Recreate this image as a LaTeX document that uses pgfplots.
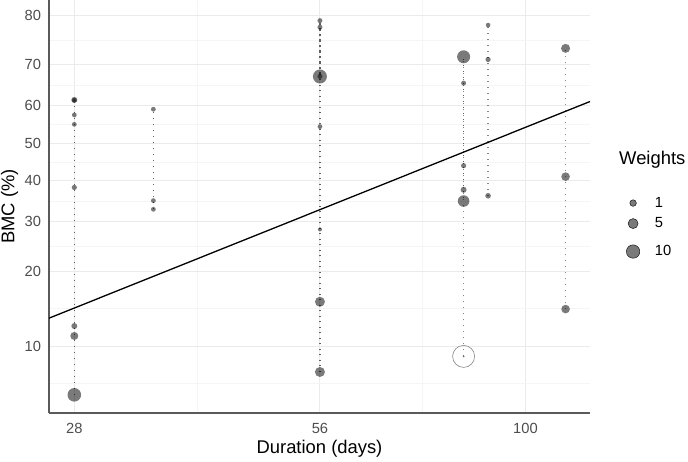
\documentclass[border=0pt]{standalone}
\usepackage{pgfplots}
\usepackage{pgfplotstable}
\pgfplotsset{compat=1.18}
\usepackage{fontspec}
\setmainfont{Liberation Sans}
\definecolor{gridmaj}{HTML}{EBEBEB}
\definecolor{gridmin}{HTML}{F5F5F5}
\definecolor{ticklab}{HTML}{4D4D4D}
\definecolor{axline}{HTML}{5A5A5A}
\definecolor{seg}{HTML}{606060}
\definecolor{segl}{HTML}{858585}

% duration (days), BMC (%), point radius (pt)
\pgfplotstableread{
d bmc r
28 61.5 3.0
28 61.4 2.4
28 57.6 2.4
28 55.1 2.4
28 38.3 2.6
28 12.2 3.0
28 11.1 4.0
28 6.2 6.8
35 59.1 2.4
35 35.0 2.4
35 32.9 2.4
56 79.0 2.5
56 77.8 2.5
56 67.3 7.0
56 67.3 2.5
56 54.5 2.4
56 28.3 2.0
56 15.3 5.0
56 7.8 5.0
84 71.8 6.5
84 65.7 2.5
84 44.0 2.6
84 37.7 3.0
84 34.9 5.8
84 9.1 1.0
90 78.2 2.3
90 71.2 2.6
90 36.2 2.8
112 73.6 4.5
112 41.1 4.3
112 14.3 4.3
}\pts

\pgfplotsset{
  rng/.style={seg, line width=1.3pt, dash pattern=on 1.2pt off 4.8pt, forget plot},
}

\begin{document}
\begin{tikzpicture}
\path[use as bounding box] (0,0) rectangle (688pt,461pt);
\begin{axis}[
  at={(49pt,48pt)}, anchor=south west,
  scale only axis, width=541pt, height=413pt,
  clip mode=individual,
  xmode=log, xmin=26.07, xmax=120,
  y coord trafo/.code={\pgfmathparse{ln((#1)/(100-(#1)))}},
  ymin=5.15, ymax=82.46,
  xtick={28,56,100}, xticklabels={28,56,100},
  minor xtick={39.6,74.8},
  ytick={10,20,30,40,50,60,70,80}, yticklabels={10,20,30,40,50,60,70,80},
  minor ytick={6.9,14.3,24.7,34.8,44.95,55.05,65.2,75.3},
  grid=both,
  major grid style={draw=gridmaj, line width=0.9pt},
  minor grid style={draw=gridmin, line width=0.6pt},
  axis lines*=left,
  axis line style={draw=axline, line width=1.1pt, -},
  major tick length=0pt, minor tick length=0pt,
  tick style={draw=none},
  ticklabel style={font=\fontsize{14.7}{16}\selectfont, text=ticklab, inner sep=0pt},
  yticklabel style={anchor=east, xshift=-7.8pt},
  xticklabel style={anchor=north, yshift=-9.6pt},
  xlabel={Duration (days)}, ylabel={BMC (\%)},
  label style={font=\fontsize{18.4}{20}\selectfont},
  xlabel style={at={(axis description cs:0.5,-0.0872)}, anchor=center},
  ylabel style={at={(axis description cs:-0.073,0.5)}, anchor=center},
  legend style={at={(axis description cs:1.0665,0.5229)}, anchor=north west,
    draw=none, fill=none, inner sep=0pt, row sep=8.9pt,
    font=\fontsize{14.7}{16}\selectfont,
    nodes={inner sep=0pt},
    /tikz/every odd column/.append style={column sep=15pt}},
  legend cell align=left,
]
% vertical dotted ranges
\addplot[rng] coordinates {(28,6.2) (28,61.5)};
\addplot[rng] coordinates {(35,32.9) (35,59.1)};
\addplot[rng, dash pattern=on 1.2pt off 4.3pt] coordinates {(56,7.8) (56,79.0)};
\addplot[rng, dash pattern=on 1.2pt off 4.3pt, dash phase=2.7pt] coordinates {(56,67.3) (56,79.0)};
\addplot[rng, segl] coordinates {(84,9.1) (84,71.8)};
\addplot[rng, dash phase=3pt] coordinates {(84,34.9) (84,71.8)};
\addplot[rng, segl] coordinates {(90,36.2) (90,78.2)};
\addplot[rng, segl] coordinates {(112,14.3) (112,73.6)};
% points
\addplot[scatter, only marks, mark=*, forget plot,
  point meta=explicit,
  scatter/use mapped color={draw=black, draw opacity=0, fill=black, fill opacity=0.52},
  visualization depends on={\thisrow{r} \as \rr},
  scatter/@pre marker code/.append style={/tikz/mark size=\rr}]
  table[x=d, y=bmc, meta=r] {\pts};
% hollow point
\addplot[only marks, mark=o, mark size=11, mark options={draw=black!55, line width=0.5pt}, forget plot]
  coordinates {(84,9.1)};
% regression line
\addplot[black, line width=1.3pt, forget plot] coordinates {(26.07,13.14) (120,61.1)};
% legend
\addlegendimage{legend image code/.code={\fill[black, fill opacity=0.52] (0pt,0pt) circle (3.3pt);}}
\addlegendentry{1}
\addlegendimage{legend image code/.code={\fill[black, fill opacity=0.52] (0pt,0pt) circle (5pt); \path (0pt,-12pt);}}
\addlegendentry{5}
\addlegendimage{legend image code/.code={\fill[black, fill opacity=0.52] (0pt,0pt) circle (6.7pt);}}
\addlegendentry{10}
\node[anchor=west, inner sep=0pt, font=\fontsize{18.4}{20}\selectfont] at (axis description cs:1.0536,0.6126) {Weights};
\end{axis}
\end{tikzpicture}
\end{document}
